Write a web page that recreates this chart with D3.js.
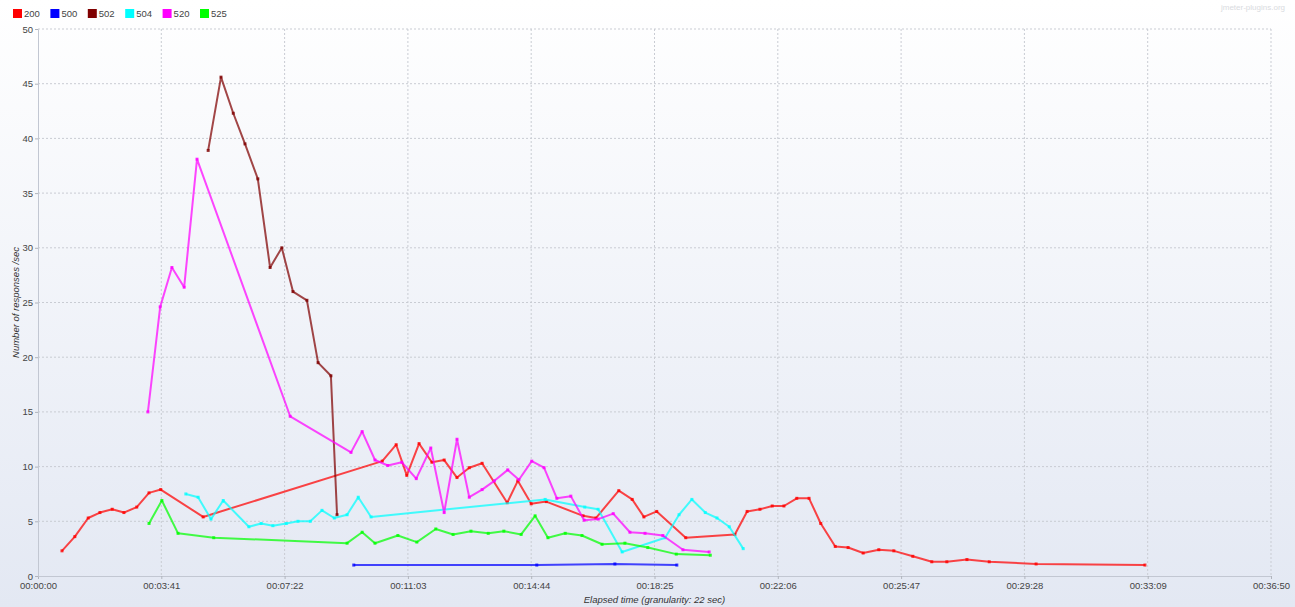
<!DOCTYPE html>
<html><head><meta charset="utf-8">
<script src="https://cdn.jsdelivr.net/npm/d3@7"></script>
<style>
html,body{margin:0;padding:0;background:#fff;}
svg{display:block;font-family:"Liberation Sans",Arial,sans-serif;}
</style></head>
<body>
<svg id="chart" width="1295" height="607"></svg>
<script>
// ---- data (elapsed seconds, responses/sec) ----
const seriesNames = ["200","500","502","504","520","525"];
const seriesColors = ["#ff0000","#0000ff","#800000","#00ffff","#ff00ff","#00ff00"];

const t200 = [43,66,90,111,133,154,177,199,220,296,617,642,661,683,706,728,751,773,796,841,860,884,911,977,1000,1041,1065,1086,1109,1161,1249,1271,1294,1316,1337,1360,1382,1403,1429,1452,1479,1507,1534,1568,1602,1629,1665,1705,1789,1984];
const v200 = [2.3,3.6,5.3,5.8,6.1,5.8,6.3,7.6,7.9,5.4,10.5,12.0,9.2,12.1,10.4,10.6,9.0,9.9,10.3,6.7,8.7,6.6,6.8,5.5,5.3,7.8,7.0,5.4,5.9,3.5,3.8,5.9,6.1,6.4,6.4,7.1,7.1,4.8,2.7,2.6,2.1,2.4,2.3,1.8,1.3,1.3,1.5,1.3,1.1,1.0];

const t500 = [566,894,1034,1145];
const v500 = [1.0,1.0,1.1,1.0];

const t502 = [305,328,350,371,394,416,437,457,482,502,525,536];
const v502 = [38.9,45.6,42.3,39.5,36.3,28.2,30.0,26.0,25.2,19.5,18.3,5.6];

const t504 = [265,287,310,332,378,400,421,445,466,488,509,531,554,574,597,909,980,1004,1047,1124,1149,1172,1196,1217,1239,1264];
const v504 = [7.5,7.2,5.2,6.9,4.5,4.8,4.6,4.8,5.0,5.0,6.0,5.3,5.6,7.2,5.4,7.0,6.3,6.1,2.2,3.5,5.6,7.0,5.8,5.3,4.5,2.5];

const t520 = [197,219,240,262,285,452,561,581,604,627,652,678,704,728,751,773,796,818,842,862,885,907,930,955,979,1004,1031,1061,1088,1120,1156,1203];
const v520 = [15.0,24.6,28.2,26.4,38.1,14.6,11.3,13.2,10.6,10.1,10.4,8.9,11.7,5.8,12.5,7.2,7.9,8.7,9.7,8.8,10.5,9.9,7.1,7.3,5.1,5.2,5.7,4.0,3.9,3.7,2.4,2.2];

const t525 = [199,222,251,315,554,581,604,645,679,713,744,776,807,835,866,891,914,945,975,1011,1052,1093,1144,1205];
const v525 = [4.8,6.9,3.9,3.5,3.0,4.0,3.0,3.7,3.1,4.3,3.8,4.1,3.9,4.1,3.8,5.5,3.5,3.9,3.7,2.9,3.0,2.6,2.0,1.9];

const xTickSeconds = [0,221,442,663,884,1105,1326,1547,1768,1989,2210];
const yTicks = [0,5,10,15,20,25,30,35,40,45,50];

const allT = [t200,t500,t502,t504,t520,t525];
const allV = [v200,v500,v502,v504,v520,v525];

// ---- layout ----
const W = 1295, H = 607;
const M = {left:38, right:24, top:29, bottom:31};
const svg = d3.select("#chart");

const defs = svg.append("defs");
const grad = defs.append("linearGradient").attr("id","bg").attr("x1",0).attr("y1",0).attr("x2",0).attr("y2",1);
grad.append("stop").attr("offset","0%").attr("stop-color","#ffffff");
grad.append("stop").attr("offset","100%").attr("stop-color","#e3e8f3");
svg.append("rect").attr("width",W).attr("height",H).attr("fill","url(#bg)");

const x = d3.scaleLinear().domain([0,2210]).range([M.left, W-M.right]);
const y = d3.scaleLinear().domain([0,50]).range([H-M.bottom, M.top]);

function fmt(s){
  const h=Math.floor(s/3600), m=Math.floor((s%3600)/60), sec=s%60;
  return [h,m,sec].map(v=>String(v).padStart(2,"0")).join(":");
}

// grid
const grid = svg.append("g");
grid.selectAll("line.h").data(yTicks.filter(d=>d>0)).join("line")
  .attr("x1",M.left).attr("x2",W-M.right)
  .attr("y1",d=>y(d)).attr("y2",d=>y(d))
  .attr("stroke","#c9ccd3").attr("stroke-width",1).attr("stroke-dasharray","2,2");
grid.selectAll("line.v").data(xTickSeconds.filter(d=>d>0)).join("line")
  .attr("x1",d=>x(d)).attr("x2",d=>x(d))
  .attr("y1",M.top).attr("y2",H-M.bottom)
  .attr("stroke","#c9ccd3").attr("stroke-width",1).attr("stroke-dasharray","2,2");

// axes
const xAxis = d3.axisBottom(x).tickValues(xTickSeconds).tickFormat(fmt).tickSize(3).tickPadding(3);
const gx = svg.append("g").attr("transform",`translate(0,${H-M.bottom})`).call(xAxis);
gx.select(".domain").attr("stroke","#c2c7d2");
gx.selectAll(".tick line").attr("stroke","#b0b4bc");
gx.selectAll("text").attr("fill","#444").attr("font-size","9.5px");

const yAxis = d3.axisLeft(y).tickValues(yTicks).tickSize(3).tickPadding(2);
const gy = svg.append("g").attr("transform",`translate(${M.left},0)`).call(yAxis);
gy.select(".domain").attr("stroke","#c2c7d2");
gy.selectAll(".tick line").attr("stroke","#b0b4bc");
gy.selectAll("text").attr("fill","#444").attr("font-size","9.5px");

// axis titles
svg.append("text").attr("x",(M.left+W-M.right)/2).attr("y",603)
  .attr("text-anchor","middle").attr("font-size","9.5px").attr("font-style","italic").attr("fill","#333")
  .text("Elapsed time (granularity: 22 sec)");
svg.append("text").attr("transform",`translate(19,${(M.top+H-M.bottom)/2}) rotate(-90)`)
  .attr("text-anchor","middle").attr("font-size","9.5px").attr("font-style","italic").attr("fill","#333")
  .text("Number of responses /sec");

// lines
const line = d3.line().x(d=>x(d[0])).y(d=>y(d[1]));
seriesNames.forEach((name,i)=>{
  const pts = allT[i].map((t,j)=>[t,allV[i][j]]);
  const g = svg.append("g");
  g.append("path").datum(pts).attr("d",line).attr("fill","none")
    .attr("stroke",seriesColors[i]).attr("stroke-width",2).attr("stroke-opacity",0.72)
    .attr("stroke-linejoin","round");
  g.selectAll("rect").data(pts).join("rect")
    .attr("x",d=>x(d[0])-1.5).attr("y",d=>y(d[1])-1.5).attr("width",3).attr("height",3)
    .attr("fill",seriesColors[i]).attr("fill-opacity",0.8);
});

// legend
const lg = svg.append("g");
seriesNames.forEach((name,i)=>{
  const lx = 13 + i*37.4;
  lg.append("rect").attr("x",lx).attr("y",9).attr("width",9).attr("height",9).attr("fill",seriesColors[i]);
  lg.append("text").attr("x",lx+11).attr("y",17).attr("font-size","9.5px").attr("fill","#444").text(name);
});

// watermark
svg.append("text").attr("x",1285).attr("y",10).attr("text-anchor","end")
  .attr("font-size","8px").attr("fill","#d9dbe0").text("jmeter-plugins.org");
</script>
</body></html>
